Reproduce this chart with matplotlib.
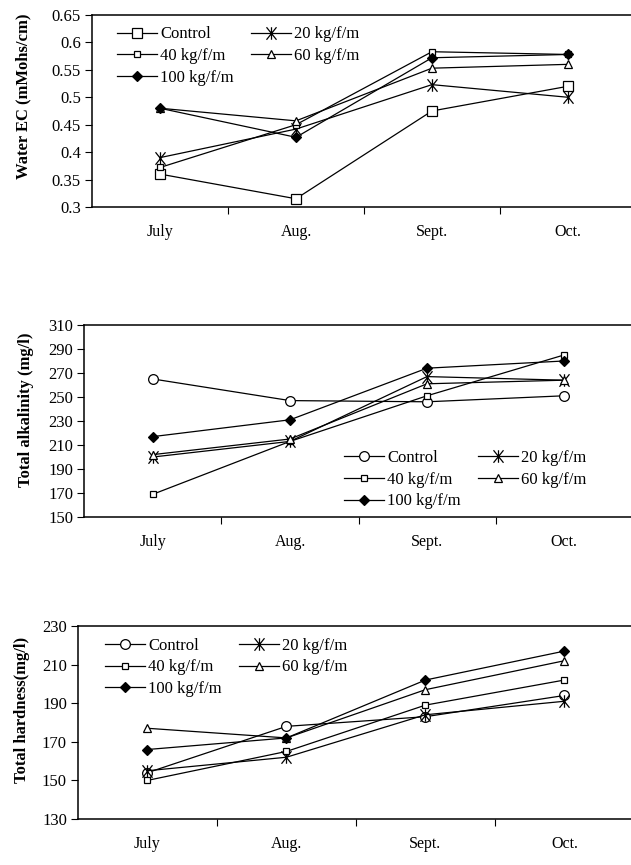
import numpy as np
import matplotlib
matplotlib.use('Agg')
import matplotlib.pyplot as plt
from matplotlib.path import Path
from matplotlib.ticker import FixedLocator, FuncFormatter

plt.rcParams['font.family'] = ['Liberation Serif', 'DejaVu Serif']

months = ["July", "Aug.", "Sept.", "Oct."]
series_names = ["Control", "20 kg/f/m", "40 kg/f/m", "60 kg/f/m", "100 kg/f/m"]

# Water EC (mMohs/cm)
ec_control = [0.36, 0.315, 0.475, 0.52]
ec_20 = [0.39, 0.442, 0.523, 0.50]
ec_40 = [0.372, 0.45, 0.583, 0.578]
ec_60 = [0.48, 0.457, 0.553, 0.56]
ec_100 = [0.48, 0.427, 0.572, 0.578]

# Total alkalinity (mg/l)
alk_control = [265, 247, 246, 251]
alk_20 = [200, 213, 267, 264]
alk_40 = [169, 213, 251, 285]
alk_60 = [202, 215, 261, 264]
alk_100 = [217, 231, 274, 280]

# Total hardness (mg/l)
hard_control = [154, 178, 183, 194]
hard_20 = [155, 162, 184, 191]
hard_40 = [150, 165, 189, 202]
hard_60 = [177, 172, 197, 212]
hard_100 = [166, 172, 202, 217]

# X with a vertical stroke, like the scanned "20 kg" marker
star_x = Path([(-0.8, -1), (0.8, 1), (-0.8, 1), (0.8, -1), (0, -1), (0, 1)],
              [Path.MOVETO, Path.LINETO, Path.MOVETO, Path.LINETO, Path.MOVETO, Path.LINETO])


def trim(v, pos):
    return ("%g" % v)


def draw_panel(ax, data, ctrl_marker, ylabel, yticks, label_xy, leg_xy):
    x = np.arange(len(months))
    styles = [
        dict(marker=ctrl_marker, ms=7, mfc='white', mec='black', mew=0.9),
        dict(marker=star_x, ms=9, mfc='none', mec='black', mew=0.9),
        dict(marker='s', ms=5, mfc='white', mec='black', mew=0.9),
        dict(marker='^', ms=6, mfc='white', mec='black', mew=0.9),
        dict(marker='D', ms=5, mfc='black', mec='black', mew=0.9),
    ]
    lines = []
    for vals, name, st in zip(data, series_names, styles):
        ln, = ax.plot(x, vals, color='black', lw=0.9, label=name, **st)
        lines.append(ln)

    ax.set_xlim(-0.5, 3.5)
    ax.set_ylim(yticks[0], yticks[-1])
    ax.yaxis.set_major_locator(FixedLocator(yticks))
    ax.yaxis.set_major_formatter(FuncFormatter(trim))
    ax.xaxis.set_major_locator(FixedLocator([0.5, 1.5, 2.5]))
    ax.xaxis.set_major_formatter(FuncFormatter(lambda v, p: ""))
    ax.set_xticks(x, minor=True)
    ax.set_xticklabels(months, minor=True)
    ax.tick_params(axis='x', which='minor', length=0, pad=12, labelsize=11.5)
    ax.tick_params(axis='x', which='major', length=5, direction='out')
    ax.tick_params(axis='y', length=5, pad=3, labelsize=12)
    ax.spines['right'].set_visible(False)
    for s in ['top', 'left', 'bottom']:
        ax.spines[s].set_linewidth(1.1)

    ax.set_ylabel(ylabel, fontweight='bold', fontsize=12)
    ax.yaxis.set_label_coords(*label_xy)

    order = [0, 2, 4, 1, 3]
    ax.legend([lines[i] for i in order], [series_names[i] for i in order],
              ncol=2, loc='upper left', bbox_to_anchor=leg_xy, frameon=False,
              fontsize=12, handlelength=2.4, handletextpad=0.2, columnspacing=1.0,
              labelspacing=0.35, borderpad=0, borderaxespad=0)


def main():
    fig = plt.figure(figsize=(6.31, 8.65), dpi=100)
    ax1 = fig.add_axes([0.1458, 0.7607, 0.862, 0.222])
    ax2 = fig.add_axes([0.1339, 0.4023, 0.8685, 0.222])
    ax3 = fig.add_axes([0.1236, 0.0532, 0.881, 0.2231])

    draw_panel(ax1, [ec_control, ec_20, ec_40, ec_60, ec_100], 's',
               "Water EC (mMohs/cm)", [0.3, 0.35, 0.4, 0.45, 0.5, 0.55, 0.6, 0.65],
               (-0.112, 0.575), (0.046, 0.94))
    draw_panel(ax2, [alk_control, alk_20, alk_40, alk_60, alk_100], 'o',
               "Total alkalinity (mg/l)", [150, 170, 190, 210, 230, 250, 270, 290, 310],
               (-0.093, 0.557), (0.4735, 0.35))
    draw_panel(ax3, [hard_control, hard_20, hard_40, hard_60, hard_100], 'o',
               "Total hardness(mg/l)", [130, 150, 170, 190, 210, 230],
               (-0.086, 0.565), (0.0486, 0.94))

    fig.savefig("out.png", dpi=100)


if __name__ == "__main__":
    main()
